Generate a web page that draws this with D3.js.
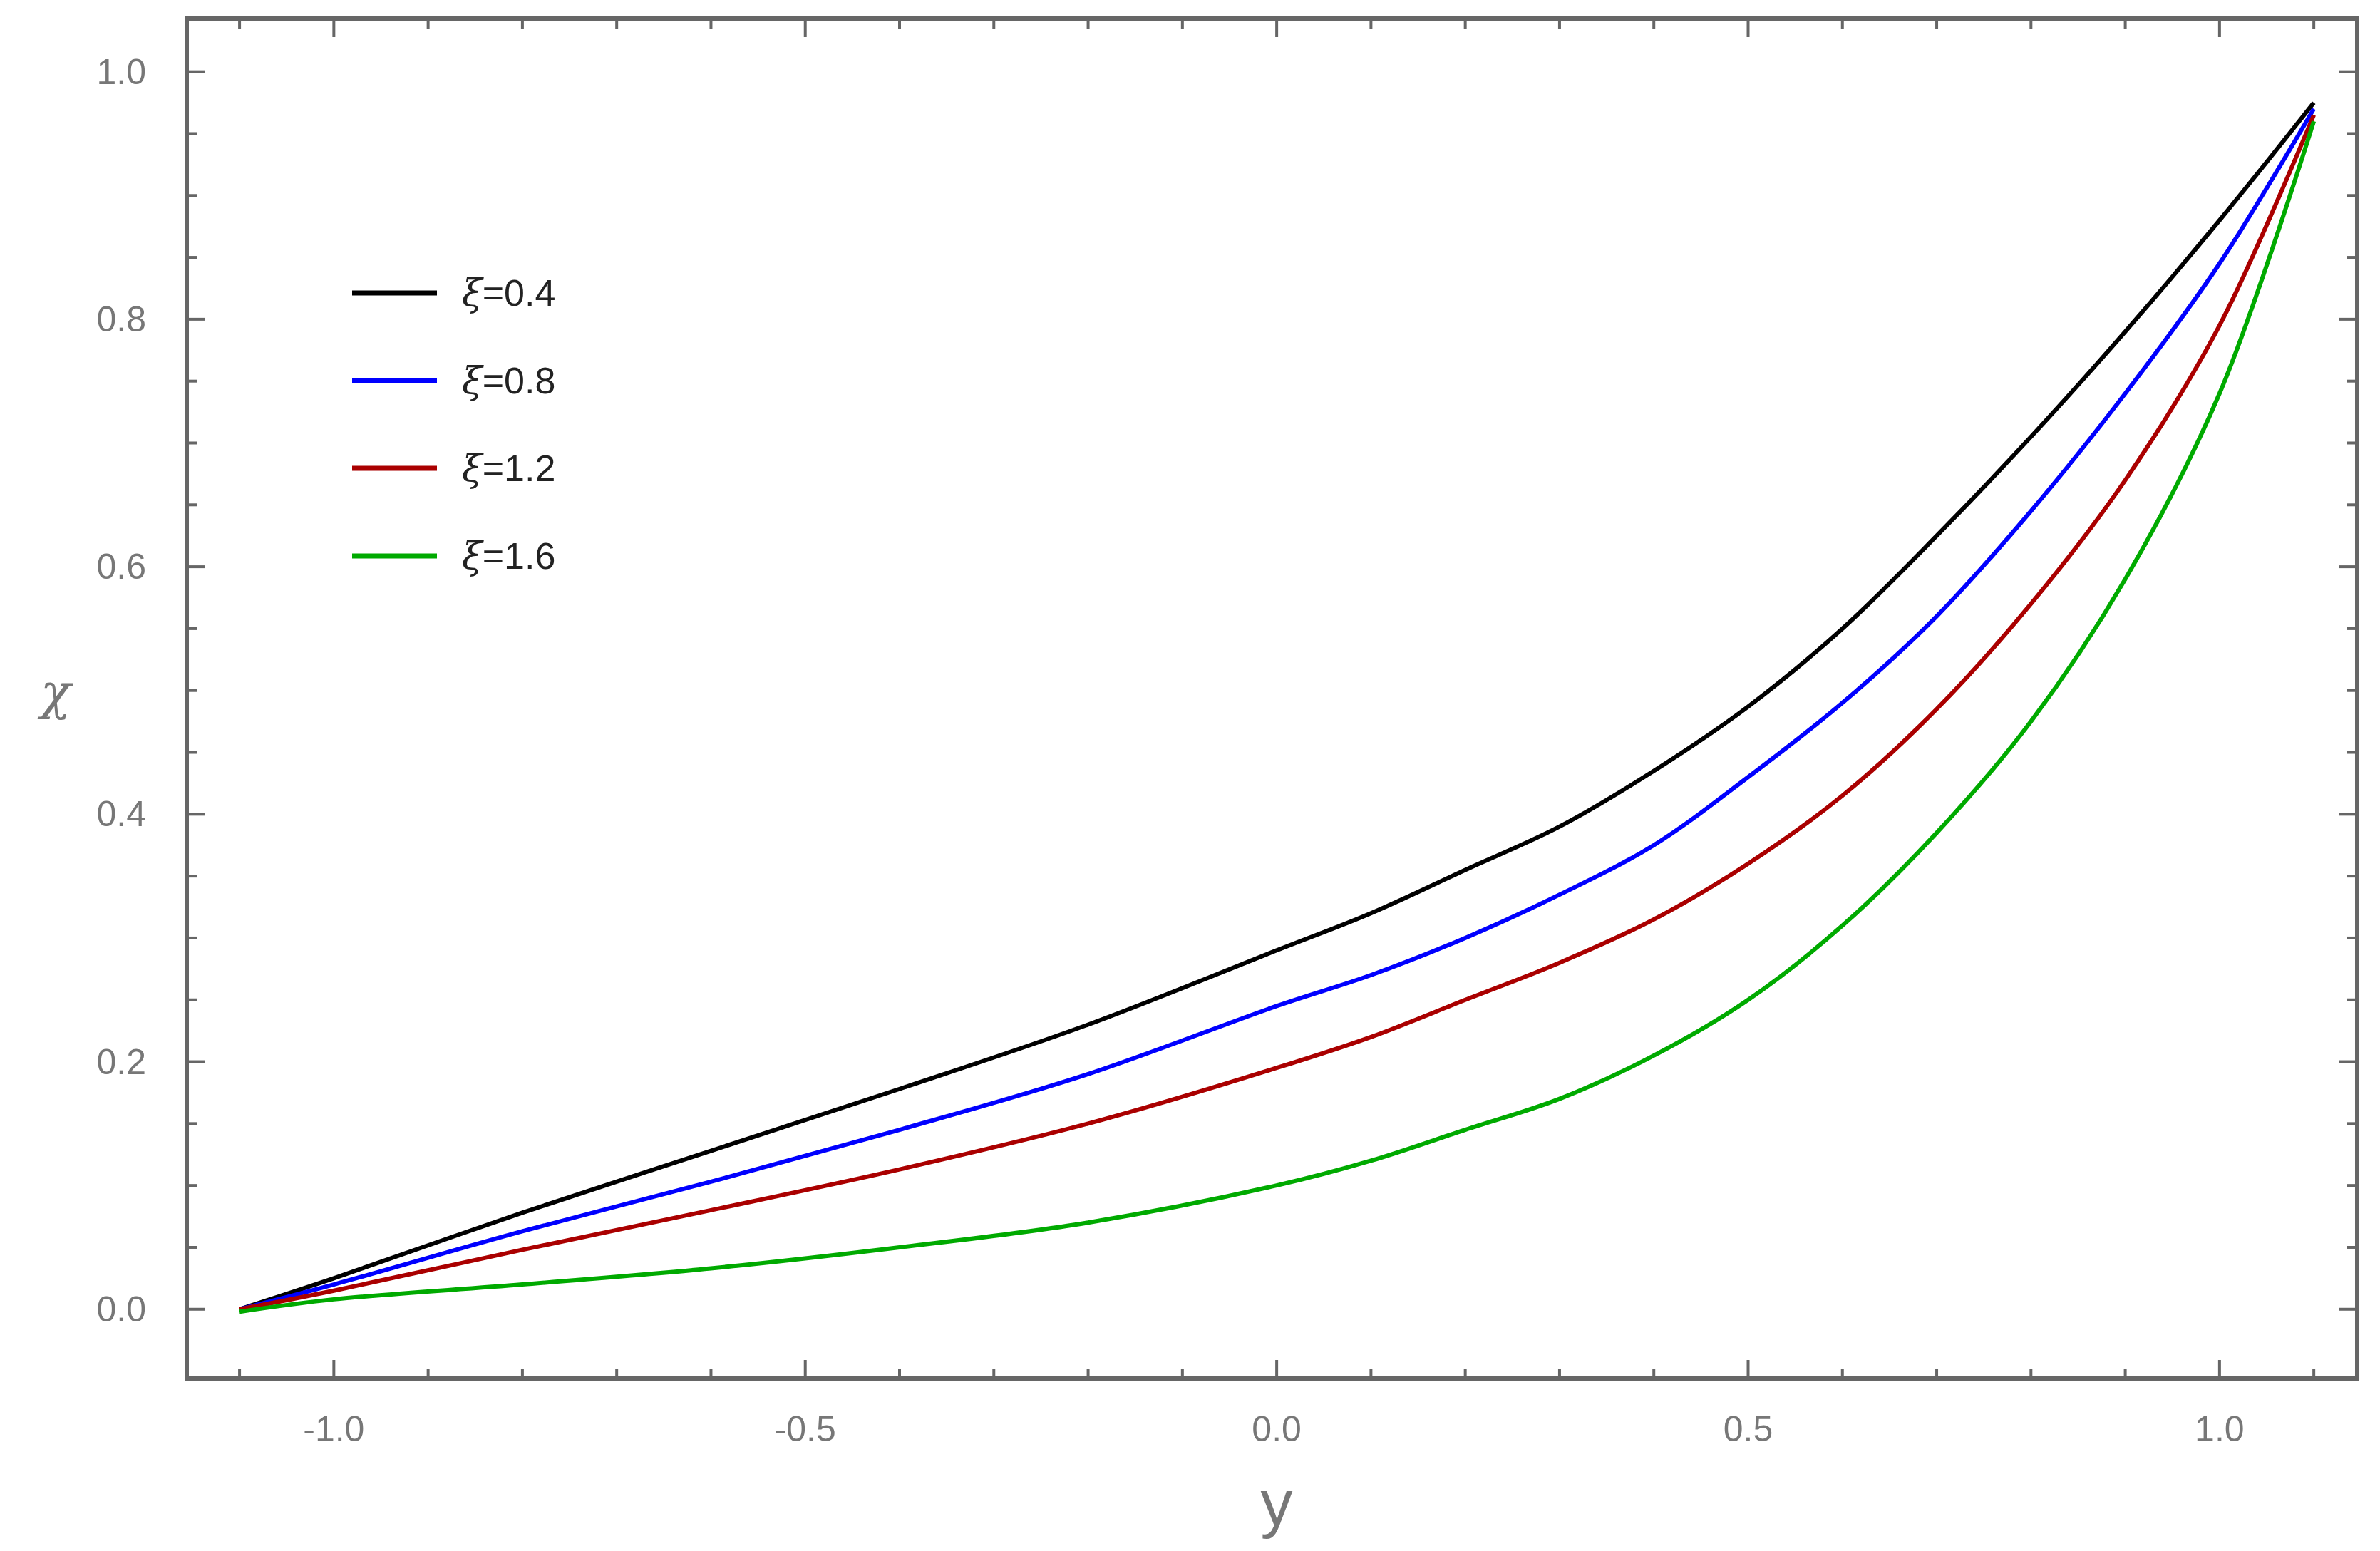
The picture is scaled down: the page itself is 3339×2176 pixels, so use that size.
<!DOCTYPE html>
<html><head><meta charset="utf-8">
<script src="https://cdn.jsdelivr.net/npm/d3@7"></script>
<style>body{margin:0;background:#fff}</style>
</head><body>
<script>
const xs = [-1.1,-1.0,-0.8,-0.6,-0.4,-0.2,0,0.1,0.2,0.3,0.4,0.5,0.6,0.7,0.8,0.9,1.0,1.1];
const xi04 = [0,0.025,0.078,0.128,0.178,0.23,0.29,0.32,0.355,0.39,0.435,0.487,0.55,0.625,0.705,0.79,0.88,0.975];
const xi08 = [0,0.02,0.063,0.103,0.145,0.19,0.245,0.27,0.30,0.335,0.375,0.43,0.49,0.56,0.645,0.74,0.845,0.97];
const xi12 = [0,0.015,0.048,0.08,0.113,0.15,0.195,0.22,0.25,0.28,0.315,0.36,0.415,0.485,0.57,0.67,0.795,0.965];
const xi16 = [-0.002,0.008,0.02,0.033,0.05,0.07,0.10,0.12,0.145,0.17,0.205,0.25,0.31,0.385,0.475,0.59,0.74,0.96];
const labels = ["0.4","0.8","1.2","1.6"];
const colors = ["#000000","#0000ff","#aa0000","#00aa00"];
const series = [xi04, xi08, xi12, xi16];
const xTicks = [-1.0,-0.5,0.0,0.5,1.0];
const yTicks = [0.0,0.2,0.4,0.6,0.8,1.0];

const W = 3339, H = 2176;
const L = 262, R = 3307, T = 26, B = 1934;
const x = d3.scaleLinear().domain([-1.156,1.146]).range([L,R]);
const y = d3.scaleLinear().domain([-0.056,1.043]).range([B,T]);
const svg = d3.select("body").append("svg").attr("width",W).attr("height",H);
const grey = "#666";

// frame ticks, inward on all four sides
const xMinor = d3.range(-11,12).map(d=>d/10);
const yMinor = d3.range(0,21).map(d=>d/20);
const tk = svg.append("g").attr("stroke",grey).attr("stroke-width",4);
xMinor.forEach(v=>{
  const major = Math.abs(v*2 - Math.round(v*2))<1e-9;
  const len = major?26:14;
  tk.append("line").attr("x1",x(v)).attr("x2",x(v)).attr("y1",B).attr("y2",B-len);
  tk.append("line").attr("x1",x(v)).attr("x2",x(v)).attr("y1",T).attr("y2",T+len);
});
yMinor.forEach(v=>{
  const major = Math.abs(v*5 - Math.round(v*5))<1e-9;
  const len = major?26:14;
  tk.append("line").attr("y1",y(v)).attr("y2",y(v)).attr("x1",L).attr("x2",L+len);
  tk.append("line").attr("y1",y(v)).attr("y2",y(v)).attr("x1",R).attr("x2",R-len);
});
svg.append("rect").attr("x",L).attr("y",T).attr("width",R-L).attr("height",B-T)
  .attr("fill","none").attr("stroke",grey).attr("stroke-width",6);

const lab = svg.append("g").attr("fill","#777").attr("font-family","Liberation Sans, Arial, sans-serif").attr("font-size",50);
xTicks.forEach(v=>lab.append("text").attr("x",x(v)).attr("y",2022).attr("text-anchor","middle").text(d3.format(".1f")(v).replace("−","-")));
yTicks.forEach(v=>lab.append("text").attr("x",205).attr("y",y(v)+17).attr("text-anchor","end").text(d3.format(".1f")(v)));
lab.append("text").attr("x",x(0)).attr("y",2140).attr("text-anchor","middle").attr("font-size",90).text("y");
lab.append("text").attr("x",78).attr("y",995).attr("text-anchor","middle").attr("font-size",70)
  .attr("font-family","DejaVu Serif, serif").attr("font-style","italic").text("χ");

const line = d3.line().x((d,i)=>x(xs[i])).y(d=>y(d)).curve(d3.curveCatmullRom);
series.forEach((s,i)=>{
  svg.append("path").attr("d",line(s)).attr("fill","none").attr("stroke",colors[i]).attr("stroke-width",6);
});

const lg = svg.append("g");
labels.forEach((t,i)=>{
  const yy = 411 + i*123;
  lg.append("line").attr("x1",494).attr("x2",613).attr("y1",yy).attr("y2",yy).attr("stroke",colors[i]).attr("stroke-width",7);
  const tx = lg.append("text").attr("x",648).attr("y",yy+18).attr("font-size",52)
    .attr("font-family","Liberation Sans, Arial, sans-serif").attr("fill","#222");
  tx.append("tspan").attr("font-style","italic").attr("font-family","DejaVu Serif, serif").text("ξ");
  tx.append("tspan").text("=" + t);
});
</script>
</body></html>
